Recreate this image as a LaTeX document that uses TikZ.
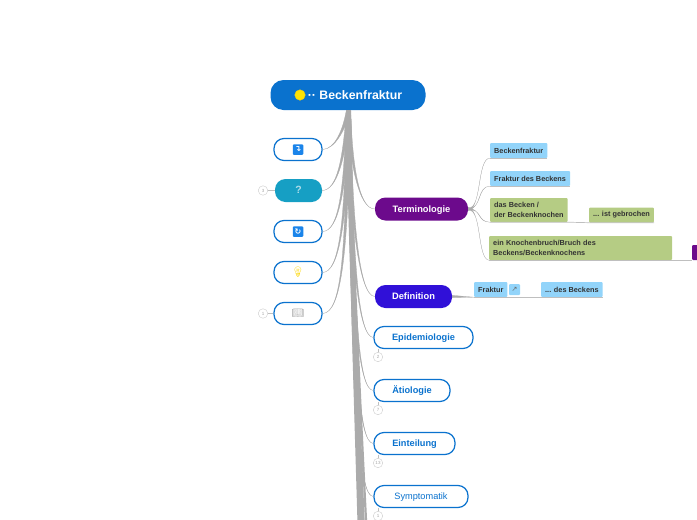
\documentclass[tikz,border=0pt]{standalone}
\usepackage{fontspec}
\setmainfont{Liberation Sans}
\newfontfamily\symbolfont{DejaVu Sans}
\newfontfamily\emojifont{Noto Emoji}
\usepackage{tikz}
\usepackage{xcolor}
\definecolor{mapblue}{HTML}{0A72CE}
\definecolor{trunkgray}{HTML}{ABABAB}
\definecolor{mapteal}{HTML}{169FC4}
\definecolor{mappurple}{HTML}{6C0A8C}
\definecolor{mapindigo}{HTML}{3010D8}
\definecolor{leafblue}{HTML}{92D4FA}
\definecolor{leafgreen}{HTML}{B5CC84}
\definecolor{iconblue}{HTML}{1A84EA}
\tikzset{
    x=1pt, y=-1pt,
    root-box/.style = {fill=mapblue, text=white, rounded corners=13pt, minimum width=155pt, minimum height=30pt, font=\fontsize{12.3}{14}\selectfont\bfseries},
    topic-box/.style = {draw=mapblue, fill=white, line width=1.2pt, rounded corners=10pt, minimum height=22pt, inner sep=0pt, text height=6.5pt, text depth=0.5pt, text=mapblue, font=\fontsize{9.2}{10}\selectfont\bfseries},
    filled-box/.style = {text=white, rounded corners=10.5pt, minimum height=23pt, inner sep=0pt, text height=6.5pt, text depth=0.5pt, font=\fontsize{9.3}{10}\selectfont\bfseries},
    leaf-box/.style = {anchor=west, rounded corners=1pt, inner sep=0pt, inner xsep=4pt, align=left, text=black!80, font=\fontsize{7.3}{10.5}\selectfont\bfseries},
    icon-box/.style = {fill=iconblue, rounded corners=1pt, minimum size=10.5pt, inner sep=0pt, text=white, font=\symbolfont\fontsize{8}{8}\selectfont\bfseries},
    count-badge/.style = {circle, draw=black!20, fill=white, minimum size=9.5pt, inner sep=0pt, text=black!35, font=\fontsize{4.5}{5}\selectfont},
    trunk-line/.style = {draw=trunkgray, line width=2.2pt},
    taper-line/.style = {fill=trunkgray, draw=trunkgray, line width=0.3pt},
    leaf-taper/.style = {fill=black!33, draw=black!33, line width=0.2pt},
    leaf-line/.style = {draw=black!25, line width=0.7pt},
}
% tapered link from the foot of the root to a node
\newcommand{\rootlink}[3]{
    \draw [taper-line] ([xshift=-2.2pt]rootfoot) .. controls ([xshift=-1.2pt]#1) and (#2) .. (#3) .. controls (#2) and ([xshift=1.2pt]#1) .. ([xshift=2.2pt]rootfoot) -- cycle;
}
% tapered link from the east side of Terminologie to the lower corner of a leaf
\newcommand{\leaflink}[2]{
    \draw [leaf-taper] ([yshift=-1.2pt]terminologie.east) .. controls (482,208) and (#1) .. (#2.south west) .. controls (#1) and (482,210) .. ([yshift=1.2pt]terminologie.east) -- cycle;
}
\begin{document}
\begin{tikzpicture}
\useasboundingbox (0,0) rectangle (697,520);

% root
\node [root-box] (root) at (348,95) {\hspace*{14pt}\textperiodcentered\textperiodcentered\ Beckenfraktur};
\node [circle, fill=yellow!85!orange, draw=yellow!70!orange, minimum size=10.5pt, inner sep=0pt] (sun) at (300,95) {};

% off-page ends of the trunk
\coordinate (rootfoot) at (348.5,110.5);
\coordinate (endA) at (358.5,520);
\coordinate (endB) at (361,520);
\coordinate (endC) at (363.5,520);
\coordinate (endD) at (366,520);

% left topics
\node [topic-box, minimum width=48pt] (arrowtopic) at (298,149.5) {};
\node [filled-box, fill=mapteal, minimum width=47pt, text=white!65!mapteal, font=\fontsize{10.5}{10}\selectfont\bfseries] (questiontopic) at (298.5,190.5) {?};
\node [topic-box, minimum width=48pt] (refreshtopic) at (298,231.5) {};
\node [topic-box, minimum width=48pt] (bulbtopic) at (298,272.5) {};
\node [topic-box, minimum width=48pt] (booktopic) at (298,313.5) {};
\node [icon-box] (arrowicon) at (298,149.5) {↴};
\node [icon-box] (refreshicon) at (298,231.5) {↻};
\node [text=yellow!75!orange, inner sep=0pt, font=\emojifont\fontsize{10}{10}\selectfont] (bulbicon) at (298,272.5) {💡};
\node [text=black!35, inner sep=0pt, font=\emojifont\fontsize{10}{10}\selectfont] (bookicon) at (298,313.5) {📖};
\node [count-badge] (questioncount) at (263,190.5) {3};
\node [count-badge] (bookcount) at (263,313.5) {1};

% right topics
\node [filled-box, fill=mappurple, minimum width=93pt] (terminologie) at (421.5,209) {Terminologie};
\node [filled-box, fill=mapindigo, minimum width=77pt] (definition) at (413.5,296.5) {Definition};
\node [topic-box, minimum width=99pt] (epidemiologie) at (423.5,337.5) {Epidemiologie};
\node [topic-box, minimum width=76pt] (aetiologie) at (412,390.5) {Ätiologie};
\node [topic-box, minimum width=81pt] (einteilung) at (414.5,443.5) {Einteilung};
\node [topic-box, minimum width=94pt, font=\fontsize{9.2}{10}\selectfont] (symptomatik) at (421,496.5) {Symptomatik};
\node [count-badge] (epidemiologiecount) at (378,357) {2};
\node [count-badge] (aetiologiecount) at (378,410) {7};
\node [count-badge] (einteilungcount) at (378,463) {13};
\node [count-badge] (symptomatikcount) at (378,516) {1};

% leaves
\node [leaf-box, fill=leafblue, minimum height=15pt] (leafone) at (490,150.5) {Beckenfraktur};
\node [leaf-box, fill=leafblue, minimum height=15pt] (leaftwo) at (490,178.5) {Fraktur des Beckens};
\node [leaf-box, fill=leafgreen, minimum height=24pt] (leafthree) at (490,210) {das Becken /\\der Beckenknochen};
\node [leaf-box, fill=leafgreen, minimum height=15pt] (leaffour) at (589,215) {... ist gebrochen};
\node [leaf-box, fill=leafgreen, minimum height=24pt, text width=175pt] (leaffive) at (489,248) {ein Knochenbruch/Bruch des\\Beckens/Beckenknochens};
\node [fill=mappurple, rounded corners=1pt, minimum width=12pt, minimum height=15pt, inner sep=0pt] (leafcut) at (698,252.5) {};
\node [leaf-box, fill=leafblue, minimum height=15pt] (frakturleaf) at (474,289.5) {Fraktur};
\node [icon-box, fill=leafblue, text=black!60, minimum size=11pt, font=\symbolfont\fontsize{7}{7}\selectfont] (linkicon) at (514.5,289.5) {↗};
\node [leaf-box, fill=leafblue, minimum height=15pt] (beckensleaf) at (541,289.5) {... des Beckens};

% trunk
\draw [trunkgray, line width=5pt] (rootfoot) .. controls (351,250) and (357,400) .. (endB);
\draw [trunk-line] (rootfoot) .. controls (350,250) and (355,400) .. (endA);
\draw [trunk-line] (rootfoot) .. controls (351,250) and (359,400) .. (endC);
\draw [trunk-line] (rootfoot) .. controls (353,250) and (360,400) .. (endD);

% branches
\rootlink{344,130}{335,149}{arrowtopic.east}
\rootlink{344,160}{337,190}{questiontopic.east}
\rootlink{345,190}{339,231}{refreshtopic.east}
\rootlink{346,220}{340,272}{bulbtopic.east}
\rootlink{347,250}{342,313}{booktopic.east}
\rootlink{351,160}{358,209}{terminologie.west}
\rootlink{351,210}{358,296}{definition.west}
\rootlink{352,260}{358,337}{epidemiologie.west}
\rootlink{353,310}{358,390}{aetiologie.west}
\rootlink{354,360}{358,443}{einteilung.west}
\rootlink{355,410}{358,496}{symptomatik.west}

% leaf connectors
\leaflink{477,158}{leafone}
\leaflink{477,186}{leaftwo}
\leaflink{477,222}{leafthree}
\leaflink{477,259}{leaffive}
\draw [leaf-line] (leafone.south west) -- (leafone.south east);
\draw [leaf-line] (leaftwo.south west) -- (leaftwo.south east);
\draw [leaf-line] (leafthree.south west) -- (leafthree.south east) -- (leaffour.south west) -- (leaffour.south east);
\draw [leaf-line] (leaffive.south west) -- (leaffive.south east) -- (leafcut.south west);
\draw [leaf-taper] ([yshift=-1.2pt]definition.east) -- (frakturleaf.south west) -- ([yshift=1.2pt]definition.east) -- cycle;
\draw [leaf-line] (frakturleaf.south west) -- (frakturleaf.south east) -- (beckensleaf.south west) -- (beckensleaf.south east);

% count ticks
\draw [leaf-line] (questioncount.east) -- (questiontopic.west);
\draw [leaf-line] (bookcount.east) -- (booktopic.west);
\draw [leaf-line] (epidemiologiecount.north) -- (epidemiologiecount|-epidemiologie.south);
\draw [leaf-line] (aetiologiecount.north) -- (aetiologiecount|-aetiologie.south);
\draw [leaf-line] (einteilungcount.north) -- (einteilungcount|-einteilung.south);
\draw [leaf-line] (symptomatikcount.north) -- (symptomatikcount|-symptomatik.south);
\end{tikzpicture}
\end{document}
